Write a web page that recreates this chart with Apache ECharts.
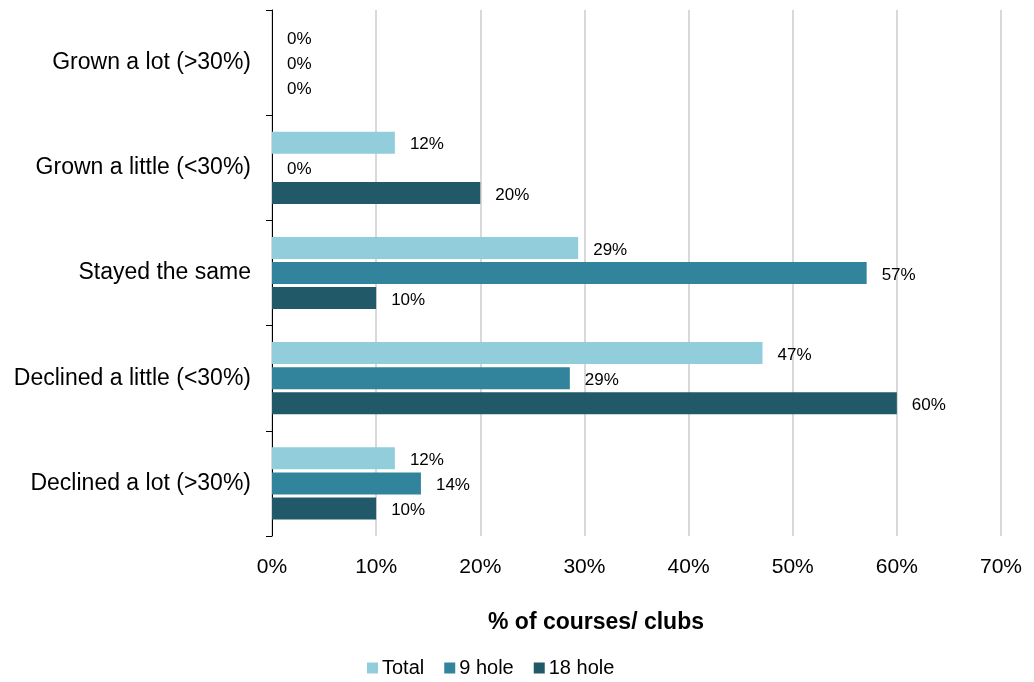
<!DOCTYPE html>
<html><head><meta charset="utf-8">
<script src="https://cdn.jsdelivr.net/npm/echarts@6/dist/echarts.min.js"></script>
<style>html,body{margin:0;padding:0;background:#fff}#c{width:1034px;height:682px}</style>
</head><body><div id="c"></div>
<script>
var categories = ["Grown a lot (>30%)", "Grown a little (<30%)", "Stayed the same", "Declined a little (<30%)", "Declined a lot (>30%)"];
var seriesNames = ["Total", "9 hole", "18 hole"];
var totalValues = [0, 11.8, 29.4, 47.1, 11.8];
var nineHoleValues = [0, 0, 57.1, 28.6, 14.3];
var eighteenHoleValues = [0, 20.0, 10.0, 60.0, 10.0];
var xTickValues = [0, 10, 20, 30, 40, 50, 60, 70];
var xAxisTitle = "% of courses/ clubs";

var colors = ["#92CDDC", "#31849B", "#215968"];
var font = "Liberation Sans, Arial, sans-serif";
var chart = echarts.init(document.getElementById('c'));
function mk(name, data, color) {
  return {
    name: name, type: 'bar', data: data, barWidth: 22, barGap: '14%',
    itemStyle: { color: color },
    label: { show: true, position: 'right', distance: 15, offset: [0, 2], color: '#000', fontSize: 17, fontFamily: font,
      formatter: function (p) { return Math.round(p.value) + '%'; } }
  };
}
chart.setOption({
  animation: false,
  textStyle: { fontFamily: font },
  grid: { left: 272, right: 33, top: 10, bottom: 146, containLabel: false },
  title: {
    text: xAxisTitle, left: 591, top: 606, textAlign: 'center',
    textStyle: { fontSize: 23, fontWeight: 'bold', color: '#000', fontFamily: font }
  },
  legend: {
    bottom: -1, left: 362, itemWidth: 11, itemHeight: 11, itemGap: 20,
    icon: 'rect', textStyle: { fontSize: 20, color: '#000', fontFamily: font, padding: [0, 0, 0, -1] },
    data: seriesNames
  },
  xAxis: {
    type: 'value', min: xTickValues[0], max: xTickValues[xTickValues.length - 1], interval: 10,
    axisLabel: { formatter: '{value}%', fontSize: 21, color: '#000', margin: 21, fontFamily: font },
    axisLine: { show: false }, axisTick: { show: false },
    splitLine: { show: true, lineStyle: { color: '#D9D9D9', width: 2 } }
  },
  yAxis: {
    type: 'category', data: categories, inverse: true,
    axisLine: { show: true, lineStyle: { color: '#000', width: 1 } },
    axisTick: { show: true, length: 6, lineStyle: { color: '#000' } },
    axisLabel: { fontSize: 23, color: '#000', margin: 21, fontFamily: font, padding: [3, 0, 0, 0] }
  },
  series: [
    mk(seriesNames[0], totalValues, colors[0]),
    mk(seriesNames[1], nineHoleValues, colors[1]),
    mk(seriesNames[2], eighteenHoleValues, colors[2])
  ]
});
</script></body></html>
